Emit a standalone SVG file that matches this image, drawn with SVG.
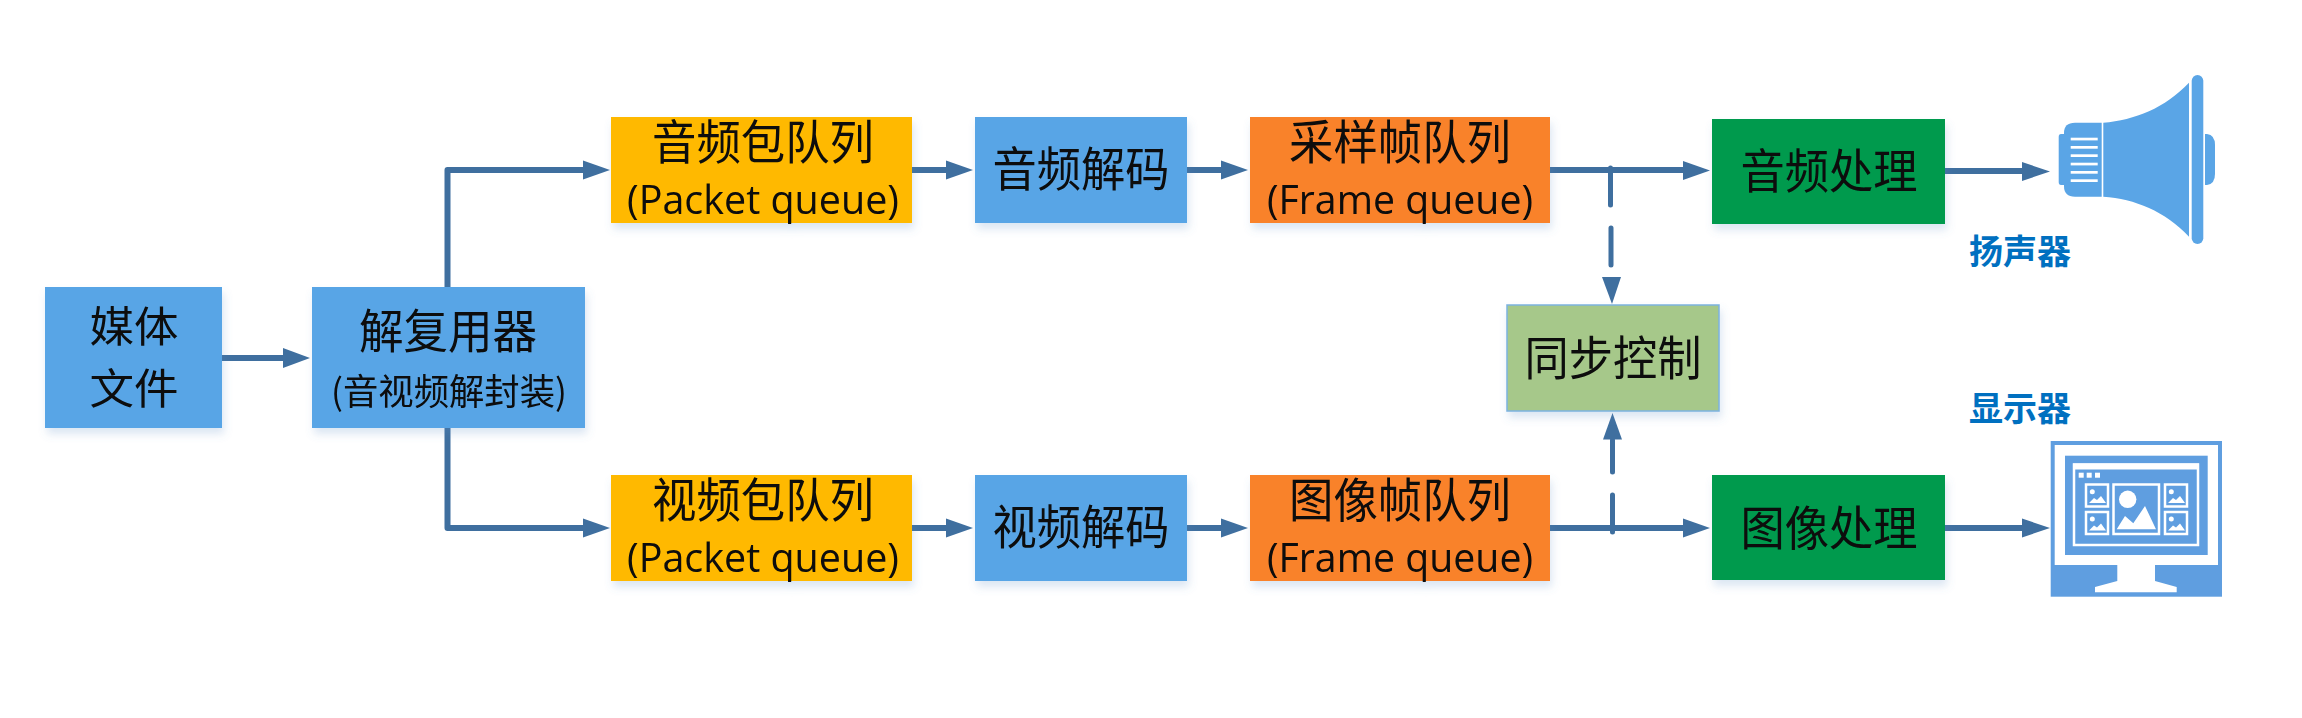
<svg xmlns="http://www.w3.org/2000/svg" width="2302" height="718" viewBox="0 0 2302 718">
<style>
.blue{fill:#58a5e6}.gold{fill:#ffb900}.orange{fill:#f9822b}.green{fill:#009a4e}.sage{fill:#a6c88a;stroke:#7cb2e0;stroke-width:1.5}
.t{font-family:"Noto Sans CJK SC","Noto Sans",sans-serif;font-size:47px;fill:#0a0a0a;text-anchor:middle}
.s{font-size:36px}
.f{font-size:42px}
.e{font-family:"Open Sans","Noto Sans CJK SC",sans-serif;font-size:39.500px;fill:#0a0a0a;text-anchor:middle}
.l{font-family:"Noto Sans CJK SC",sans-serif;font-size:34px;font-weight:700;fill:#0070c0;text-anchor:middle}
.c{fill:none;stroke:#3f6f9f;stroke-width:6;stroke-linejoin:round;stroke-linecap:round}
.d{fill:none;stroke:#3f6f9f;stroke-width:5;stroke-linecap:round}
.h{fill:#3f6f9f}
.sp{fill:#5aa5e6}
.w{fill:#fff}
.wo{fill:none;stroke:#fff;stroke-width:2.500}
.m{fill:#5f9ee0}
</style>
<defs>
<filter id="sh" x="-10%" y="-10%" width="120%" height="130%"><feDropShadow dx="2" dy="6" stdDeviation="4" flood-color="#5b8fc8" flood-opacity="0.22"/></filter>
</defs>
<rect width="2302" height="718" fill="#fff"/>
<g id="connectors">
<path class="c" d="M222 358H285"/><path class="h" d="M283 348L310 358L283 368Z"/>
<path class="c" d="M447.500 287V170H585"/><path class="h" d="M583 160.500L610 170L583 179.500Z"/>
<path class="c" d="M447.500 428V528H585"/><path class="h" d="M583 518.500L610 528L583 537.500Z"/>
<path class="c" d="M912 170H948"/><path class="h" d="M946 160.500L973 170L946 179.500Z"/>
<path class="c" d="M1187 170H1223"/><path class="h" d="M1221 160.500L1248 170L1221 179.500Z"/>
<path class="c" d="M912 528H948"/><path class="h" d="M946 518.500L973 528L946 537.500Z"/>
<path class="c" d="M1187 528H1223"/><path class="h" d="M1221 518.500L1248 528L1221 537.500Z"/>
<path class="c" d="M1550 170H1685"/><path class="h" d="M1683 161L1710 170.500L1683 180Z"/>
<path class="c" d="M1945 171H2024"/><path class="h" d="M2022 162L2050 171.500L2022 181Z"/>
<path class="c" d="M1550 528H1685"/><path class="h" d="M1683 518.500L1710 528L1683 537.500Z"/>
<path class="c" d="M1945 528H2024"/><path class="h" d="M2022 518.500L2050 528L2022 537.500Z"/>
<path class="d" d="M1610.500 168V205M1611 228V265"/><path class="h" d="M1602 277H1621L1612 304Z"/>
<path class="d" d="M1612.500 532V495M1612.500 472V440"/><path class="h" d="M1603 439.500H1622L1612.500 413Z"/>
</g>
<g id="media" filter="url(#sh)"><rect class="blue" x="45" y="287" width="177" height="141"/><text class="t f" x="134" y="342" textLength="89" lengthAdjust="spacingAndGlyphs">媒体</text><text class="t f" x="134" y="404" textLength="89" lengthAdjust="spacingAndGlyphs">文件</text></g>
<g id="demux" filter="url(#sh)"><rect class="blue" x="312" y="287" width="273" height="141"/><text class="t" x="448" y="348" textLength="178" lengthAdjust="spacingAndGlyphs">解复用器</text><text class="t s" x="449" y="405" textLength="236" lengthAdjust="spacingAndGlyphs">(音视频解封装)</text></g>
<g id="apq" filter="url(#sh)"><rect class="gold" x="611" y="117" width="301" height="106"/><text class="t" x="763" y="159" textLength="222" lengthAdjust="spacingAndGlyphs">音频包队列</text><text class="e" x="763" y="214" textLength="272" lengthAdjust="spacingAndGlyphs">(Packet queue)</text></g>
<g id="adec" filter="url(#sh)"><rect class="blue" x="975" y="117" width="212" height="106"/><text class="t" x="1081" y="186" textLength="177" lengthAdjust="spacingAndGlyphs">音频解码</text></g>
<g id="afq" filter="url(#sh)"><rect class="orange" x="1250" y="117" width="300" height="106"/><text class="t" x="1400" y="159" textLength="222" lengthAdjust="spacingAndGlyphs">采样帧队列</text><text class="e" x="1400" y="214" textLength="266" lengthAdjust="spacingAndGlyphs">(Frame queue)</text></g>
<g id="vpq" filter="url(#sh)"><rect class="gold" x="611" y="475" width="301" height="106"/><text class="t" x="763" y="517" textLength="222" lengthAdjust="spacingAndGlyphs">视频包队列</text><text class="e" x="763" y="572" textLength="272" lengthAdjust="spacingAndGlyphs">(Packet queue)</text></g>
<g id="vdec" filter="url(#sh)"><rect class="blue" x="975" y="475" width="212" height="106"/><text class="t" x="1081" y="544" textLength="177" lengthAdjust="spacingAndGlyphs">视频解码</text></g>
<g id="vfq" filter="url(#sh)"><rect class="orange" x="1250" y="475" width="300" height="106"/><text class="t" x="1400" y="517" textLength="222" lengthAdjust="spacingAndGlyphs">图像帧队列</text><text class="e" x="1400" y="572" textLength="266" lengthAdjust="spacingAndGlyphs">(Frame queue)</text></g>
<g id="aproc" filter="url(#sh)"><rect class="green" x="1712" y="119" width="233" height="105"/><text class="t" x="1829" y="188" textLength="177" lengthAdjust="spacingAndGlyphs">音频处理</text></g>
<g id="vproc" filter="url(#sh)"><rect class="green" x="1712" y="475" width="233" height="105"/><text class="t" x="1829" y="545" textLength="177" lengthAdjust="spacingAndGlyphs">图像处理</text></g>
<g id="sync" filter="url(#sh)"><rect class="sage" x="1507" y="305" width="212" height="106"/><text class="t" x="1613" y="375" textLength="177" lengthAdjust="spacingAndGlyphs">同步控制</text></g>
<g id="speaker">
<path class="sp" d="M2064 134H2061Q2058.700 134 2058.700 137V182Q2058.700 185 2061 185H2064Z"/>
<path class="sp" d="M2075 122.700H2101.700V196.700H2075Q2064 196.700 2064 186V133Q2064 122.700 2075 122.700Z"/>
<path class="sp" d="M2103.300 122.700C2135 120 2165 108 2189 82.700V236.700C2165 211 2135 199 2103.300 196.700Z"/>
<rect class="sp" x="2191.700" y="75" width="11.600" height="169" rx="5.800"/>
<path class="sp" d="M2205 134H2207Q2215 135 2215 145V174Q2215 184 2207 185H2205Z"/>
<g class="w"><rect x="2070.700" y="137.700" width="27" height="2.700"/><rect x="2070.700" y="146" width="27" height="2.700"/><rect x="2070.700" y="154.300" width="27" height="2.700"/><rect x="2070.700" y="162.700" width="27" height="2.700"/><rect x="2070.700" y="171" width="27" height="2.700"/><rect x="2070.700" y="179.300" width="27" height="2.700"/></g>
<text class="l" x="2020" y="264">扬声器</text>
</g>
<g id="monitor">
<rect class="m" x="2050.700" y="441" width="171.300" height="155.700"/>
<rect class="w" x="2054.700" y="445" width="163.300" height="120"/>
<rect class="m" x="2065" y="455.700" width="142.700" height="99.300"/>
<rect class="wo" x="2074" y="464.500" width="124" height="80.500"/>
<rect class="w" x="2073" y="463.500" width="126" height="6"/>
<g class="w"><rect x="2078.700" y="472.700" width="5" height="5"/><rect x="2086.700" y="472.700" width="5" height="5"/><rect x="2095" y="472.700" width="5" height="5"/></g>
<path class="w" d="M2117.300 565H2155V581L2176.700 587V592.300H2095V587L2117.300 581Z"/>
<g class="wo"><rect x="2086" y="484.500" width="22" height="22"/><rect x="2086" y="512" width="22" height="22"/><rect x="2113.500" y="484.500" width="45.500" height="49.500"/><rect x="2165" y="484.500" width="22" height="22"/><rect x="2165" y="512" width="22" height="22"/></g>
<g class="w">
<circle cx="2127.700" cy="499.300" r="8.700"/><path d="M2116.700 529.300L2125 516L2133.300 523.300L2145 506L2156 529.300Z"/>
<circle cx="2092.300" cy="491.700" r="2.500"/><path d="M2089 503L2094 498L2097 500L2101 496L2106 503Z"/>
<circle cx="2092.300" cy="519" r="2.500"/><path d="M2089 530.500L2094 525.500L2097 527.500L2101 523.500L2106 530.500Z"/>
<circle cx="2171.300" cy="491.700" r="2.500"/><path d="M2168 503L2173 498L2176 500L2180 496L2185 503Z"/>
<circle cx="2171.300" cy="519" r="2.500"/><path d="M2168 530.500L2173 525.500L2176 527.500L2180 523.500L2185 530.500Z"/>
</g>
<text class="l" x="2020" y="421">显示器</text>
</g>
</svg>
